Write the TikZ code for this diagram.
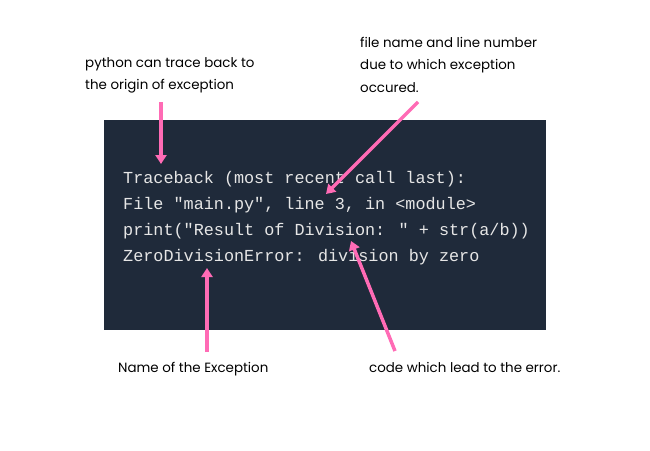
\documentclass[tikz,border=0pt]{standalone}
\usepackage{fontspec}
\setmainfont{Poppins}
\newfontfamily\codefont{Liberation Mono}
\usetikzlibrary{arrows.meta, positioning}

\definecolor{slate}{HTML}{1F2A3A}
\definecolor{hotpink}{HTML}{FF6BB5}
\definecolor{codegray}{HTML}{E6E6E6}

\tikzset{
    note/.style={anchor=north west, align=left, inner sep=0pt, font=\fontsize{13.4}{22.5}\selectfont, text=black},
    codeline/.style={anchor=west, inner sep=0pt, text=codegray, font=\codefont\fontsize{16.8}{20}\selectfont},
    pointer/.style={draw=hotpink, line width=3.5pt, -{Triangle[width=11pt,length=9pt]}},
}

\begin{document}
\begin{tikzpicture}[x=1pt, y=-1pt]

    \useasboundingbox (0,0) rectangle (650,450);

    % the console window
    \fill[slate] (104,120) rectangle (546,330);

    \node[codeline] (trace) at (123,179) {Traceback (most recent call last):};
    \node[codeline] (file)  at (123,205) {File "main.py", line 3, in <module>};
    \node[codeline] (print) at (123,231) {print("Result of Division: " + str(a/b))};
    \node[codeline] (zero)  at (123,257) {ZeroDivisionError: division by zero};

    % notes round it
    \node[note] (origin) at (85,57) {python can trace back to\\the origin of exception};
    \node[note] (where)  at (360,37) {file name and line number\\due to which exception\\occured.};
    \node[note] (name)   at (118,362) {Name of the Exception};
    \node[note] (cause)  at (369,362) {code which lead to the error.};

    \coordinate (o1) at (161,102);
    \coordinate (o2) at (161,164);
    \coordinate (w1) at (418,102);
    \coordinate (w2) at (326,194);
    \coordinate (n1) at (207,352);
    \coordinate (n2) at (207,268);
    \coordinate (c1) at (395,351);
    \coordinate (c2) at (351,241);

    \draw[pointer] (o1) -- (o2);
    \draw[pointer] (w1) -- (w2);
    \draw[pointer] (n1) -- (n2);
    \draw[pointer] (c1) -- (c2);

\end{tikzpicture}
\end{document}
